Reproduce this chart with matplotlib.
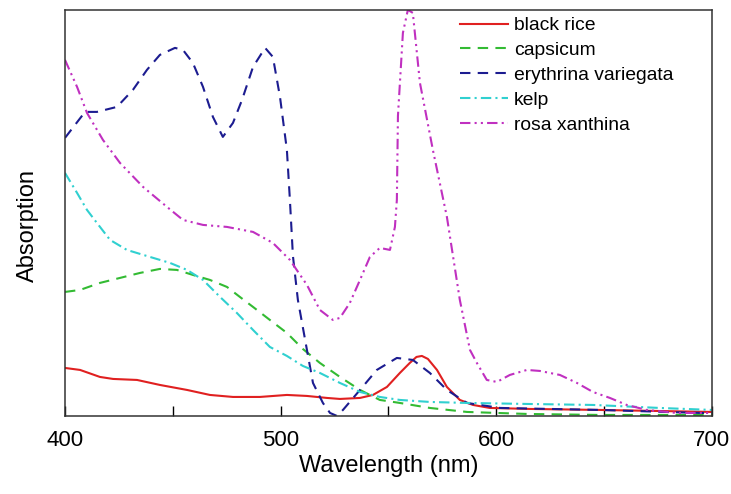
import numpy as np
import matplotlib
matplotlib.use("Agg")
import matplotlib.pyplot as plt
from matplotlib.ticker import MultipleLocator

plt.rcParams['font.family'] = ['Liberation Sans', 'DejaVu Sans']

# absorption in arbitrary units
wl_rice = [400, 407, 416.2, 422.3, 433.4, 444, 456.6, 467.2, 477.9, 490.4, 502.9, 512.2,
           521.5, 527.5, 536.8, 542.8, 549.3, 555.3, 559.9, 563, 565.5, 568.3, 572.5, 577.1,
           583.1, 589.2, 597, 615.6, 648, 700]
ab_rice = [48, 46, 39, 37, 36, 31, 26, 21, 19, 19, 21, 20,
           18, 17, 18, 21, 29, 43, 53, 59, 60, 57, 46, 29,
           16, 11, 8, 7, 6, 4]

wl_caps = [400, 407, 416.2, 425.5, 434.8, 444, 451.9, 459.3, 467.2, 475.1, 481.1, 487.2,
           495, 502.9, 510.3, 518.2, 527.5, 536.8, 546, 555.3, 569.2, 586.4, 614.2, 648, 700]
ab_caps = [124, 126, 133, 138, 143, 147, 146, 141, 136, 129, 119, 109,
           96, 83, 67, 53, 39, 26, 16, 13, 8, 4, 2, 1, 1]

wl_ery = [400, 409.3, 414.8, 424.1, 431.5, 438, 444, 451, 454.7, 459.3, 464, 468.6,
          473.2, 477.9, 482.1, 487.2, 492.8, 496.4, 499.7, 502.9, 504.3, 505.7, 508,
          512.2, 515, 519.6, 522.9, 526.1, 528.9, 536.8, 544.6, 553.9, 561.3, 569.2,
          577.1, 586.4, 601.7, 648, 694.4, 700]
ab_ery = [278, 304, 304, 309, 326, 346, 361, 368, 366, 353, 329, 299,
          279, 293, 316, 349, 368, 359, 319, 266, 216, 160, 116,
          66, 33, 13, 3, 0, 6, 26, 46, 58, 56, 43,
          26, 13, 8, 6, 3, 3]

wl_kelp = [400, 405.6, 410.2, 414.8, 420.9, 428.7, 439.4, 448.7, 456.6, 464, 471.9, 479.7,
           487.2, 495, 502.9, 510.3, 518.2, 527.5, 536.8, 546, 555.3, 569.2, 586.4, 614.2,
           644.8, 675.8, 700]
ab_kelp = [243, 223, 206, 193, 176, 166, 159, 153, 146, 136, 119, 103,
           86, 69, 60, 50, 43, 33, 24, 19, 16, 14, 13, 12,
           11, 8, 6]

wl_rosa = [400, 405.6, 410.2, 417.6, 425.5, 436.2, 447.3, 454.7, 464, 475.1, 487.2, 496.4,
           504.3, 512.2, 518.2, 524.2, 527.5, 532.1, 536.8, 541.4, 546, 550.7, 553, 553.9,
           554.4, 556.7, 559, 561.3, 564.6, 570.6, 577.1, 583.1, 587.8, 591, 595.6, 600.3,
           606.3, 614.2, 620.2, 629.5, 637.4, 644.8, 652.7, 660.5, 669.8, 683.7, 700]
ab_rosa = [356, 329, 303, 276, 253, 229, 209, 196, 191, 189, 184, 173,
           156, 131, 106, 96, 98, 113, 136, 159, 168, 166, 189, 216,
           300, 383, 406, 403, 333, 266, 199, 116, 66, 53, 36, 34,
           41, 46, 45, 41, 33, 24, 18, 11, 6, 3, 3]

fig = plt.figure(figsize=(7.31, 4.94), dpi=100)
ax = fig.add_axes([0.0889, 0.158, 0.885, 0.822])

ax.plot(wl_rice, ab_rice, color='#e02020', lw=1.5, label='black rice')
ax.plot(wl_caps, ab_caps, color='#33bb33', lw=1.5, dashes=(5, 3.5), label='capsicum')
ax.plot(wl_ery, ab_ery, color='#1c1c90', lw=1.5, dashes=(5, 3.5), label='erythrina variegata')
ax.plot(wl_kelp, ab_kelp, color='#30d0d0', lw=1.5, dashes=(5, 2, 1, 2), label='kelp')
ax.plot(wl_rosa, ab_rosa, color='#c030c0', lw=1.5, dashes=(5, 2, 1, 2, 1, 2), label='rosa xanthina')

ax.set_xlim(400, 700)
ax.set_ylim(0, 406)
ax.xaxis.set_major_locator(MultipleLocator(100))
ax.xaxis.set_minor_locator(MultipleLocator(50))
ax.tick_params(axis='x', which='both', direction='in', labelsize=16, pad=10)
ax.tick_params(axis='x', which='major', length=7, width=1)
ax.tick_params(axis='x', which='minor', length=7, width=1)
ax.set_yticks([])
for s in ax.spines.values():
    s.set_color('#333333')
    s.set_linewidth(1.1)

ax.set_xlabel('Wavelength (nm)', fontsize=17, labelpad=3)
ax.set_ylabel('Absorption', fontsize=17)
ax.yaxis.set_label_coords(-0.04, 0.47)

ax.legend(loc='upper left', bbox_to_anchor=(0.61, 0.983), frameon=False, fontsize=13.9,
          borderpad=0, borderaxespad=0, labelspacing=0.38, handlelength=2.5,
          handletextpad=0.3)

fig.savefig('out.png', dpi=100)
